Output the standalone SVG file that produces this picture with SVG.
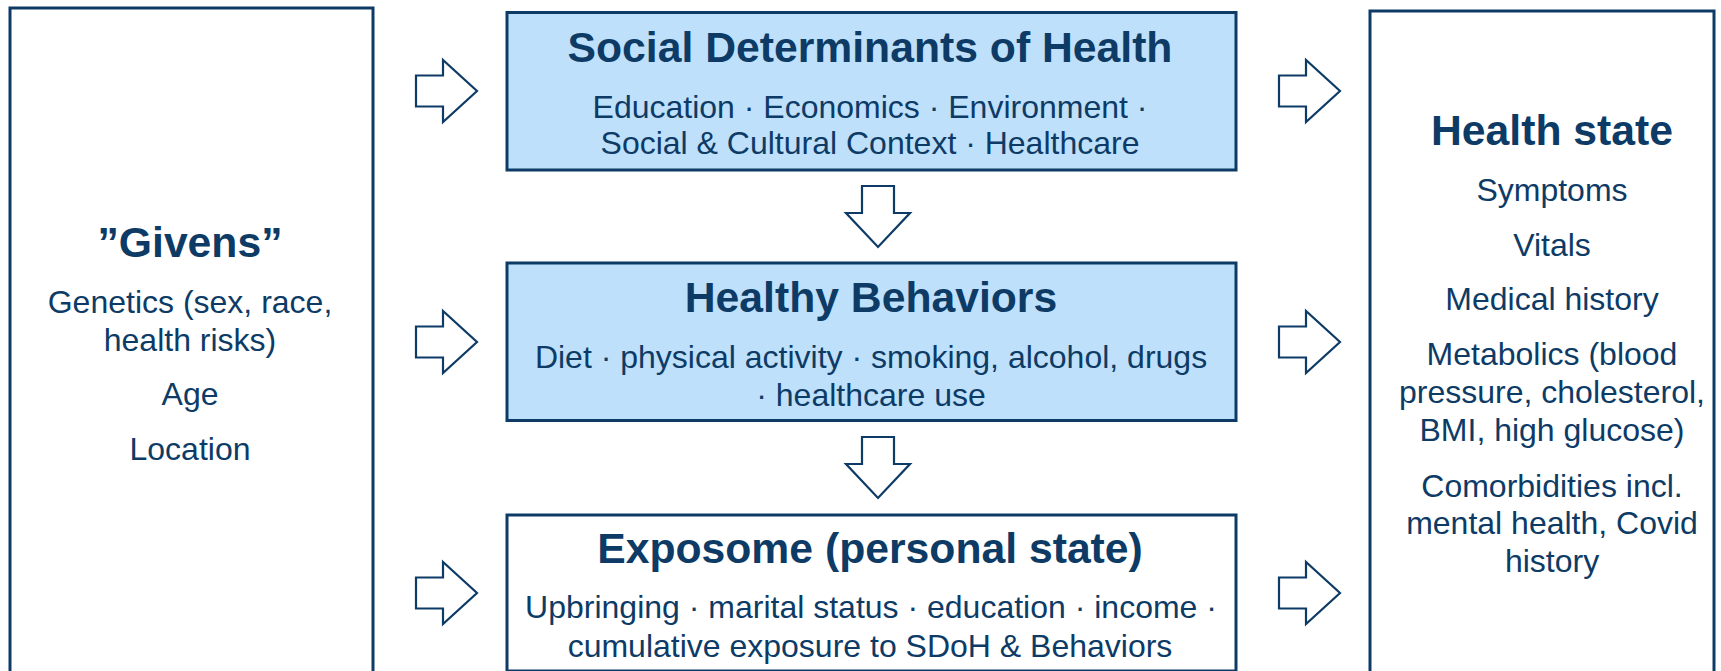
<svg xmlns="http://www.w3.org/2000/svg" xmlns:xlink="http://www.w3.org/1999/xlink" width="1721" height="671" viewBox="0 0 1721 671">
  <style>
    .box { stroke: #0d3b66; stroke-width: 3; }
    .plain { fill: #ffffff; }
    .shaded { fill: #bee0fa; }
    .arrow { fill: #ffffff; stroke: #0d3b66; stroke-width: 2.2; stroke-linejoin: miter; }
    text { font-family: "Liberation Sans", Arial, sans-serif; fill: #0d3b66; text-anchor: middle; }
    .title { font-size: 42.7px; font-weight: bold; }
    .body { font-size: 32px; }
  </style>
  <defs>
    <!-- block arrows, drawn with the tip at the origin -->
    <path id="arrow-right" class="arrow" d="M-61,-15.5 L-34,-15.5 L-34,-31 L0,0 L-34,31 L-34,15.5 L-61,15.5 Z"/>
    <path id="arrow-down" class="arrow" d="M-16,-61 L16,-61 L16,-34 L32,-34 L0,0 L-32,-34 L-16,-34 Z"/>
  </defs>

  <rect width="1721" height="671" fill="#ffffff"/>

  <!-- connectors -->
  <g id="connectors">
    <use xlink:href="#arrow-right" transform="translate(477,91)"/>
    <use xlink:href="#arrow-right" transform="translate(477,342)"/>
    <use xlink:href="#arrow-right" transform="translate(477,593)"/>
    <use xlink:href="#arrow-right" transform="translate(1340,91)"/>
    <use xlink:href="#arrow-right" transform="translate(1340,342)"/>
    <use xlink:href="#arrow-right" transform="translate(1340,593)"/>
    <use xlink:href="#arrow-down" transform="translate(878,247)"/>
    <use xlink:href="#arrow-down" transform="translate(878,498)"/>
  </g>

  <!-- left column -->
  <g id="givens">
    <rect class="box plain" x="10" y="8" width="363" height="680"/>
    <text class="title" x="190" y="257">”Givens”</text>
    <text class="body" x="190" y="312.5">Genetics (sex, race,</text>
    <text class="body" x="190" y="350.5">health risks)</text>
    <text class="body" x="190" y="405">Age</text>
    <text class="body" x="190" y="460">Location</text>
  </g>

  <!-- middle column -->
  <g id="sdoh">
    <rect class="box shaded" x="507" y="12.5" width="729" height="157.5"/>
    <text class="title" x="870" y="62">Social Determinants of Health</text>
    <text class="body" x="870" y="118">Education · Economics · Environment ·</text>
    <text class="body" x="870" y="154">Social &amp; Cultural Context · Healthcare</text>
  </g>

  <g id="behaviors">
    <rect class="box shaded" x="507" y="263" width="729" height="157.5"/>
    <text class="title" x="871" y="312">Healthy Behaviors</text>
    <text class="body" x="871" y="368">Diet · physical activity · smoking, alcohol, drugs</text>
    <text class="body" x="871" y="406">· healthcare use</text>
  </g>

  <g id="exposome">
    <rect class="box plain" x="507" y="515" width="729" height="156"/>
    <text class="title" x="870" y="563">Exposome (personal state)</text>
    <text class="body" x="871" y="618">Upbringing · marital status · education · income ·</text>
    <text class="body" x="870" y="657">cumulative exposure to SDoH &amp; Behaviors</text>
  </g>

  <!-- right column -->
  <g id="health-state">
    <rect class="box plain" x="1370" y="11" width="344" height="680"/>
    <text class="title" x="1552" y="145">Health state</text>
    <text class="body" x="1552" y="200.5">Symptoms</text>
    <text class="body" x="1552" y="255.5">Vitals</text>
    <text class="body" x="1552" y="310">Medical history</text>
    <text class="body" x="1552" y="365">Metabolics (blood</text>
    <text class="body" x="1552" y="403">pressure, cholesterol,</text>
    <text class="body" x="1552" y="441">BMI, high glucose)</text>
    <text class="body" x="1552" y="496.5">Comorbidities incl.</text>
    <text class="body" x="1552" y="534">mental health, Covid</text>
    <text class="body" x="1552" y="571.5">history</text>
  </g>
</svg>
